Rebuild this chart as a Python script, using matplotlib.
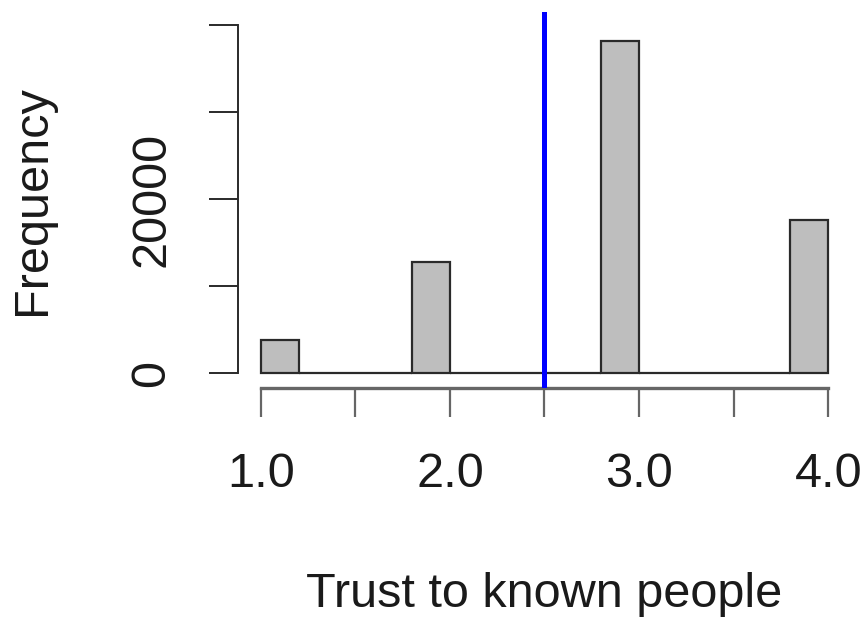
import matplotlib
matplotlib.use("Agg")
import matplotlib.pyplot as plt
import numpy as np

plt.rcParams['font.family'] = ['Liberation Sans', 'DejaVu Sans']

# Data
bin_edges = [1.0, 1.2, 1.4, 1.6, 1.8, 2.0, 2.2, 2.4, 2.6, 2.8, 3.0, 3.2, 3.4, 3.6, 3.8, 4.0]
counts = [3800, 0, 0, 0, 12750, 0, 0, 0, 0, 38200, 0, 0, 0, 0, 17600]
mean_line = 2.5
x_ticks = [1.0, 1.5, 2.0, 2.5, 3.0, 3.5, 4.0]
x_tick_labels = ["1.0", "", "2.0", "", "3.0", "", "4.0"]
y_ticks = [0, 10000, 20000, 30000, 40000]
y_tick_labels = ["0", "", "20000", "", ""]
x_label = "Trust to known people"
y_label = "Frequency"

W, H = 862, 617
fig = plt.figure(figsize=(W / 100, H / 100), dpi=100)
left, right, top, bottom = 238, 851, 12, 388
ax = fig.add_axes([left / W, 1 - bottom / H, (right - left) / W, (bottom - top) / H])

edges = np.array(bin_edges)
widths = np.diff(edges)
ax.bar(edges[:-1], counts, width=widths, align='edge', color='#bebebe',
       edgecolor='#2a2a2a', linewidth=1.6, zorder=2)
ax.axvline(mean_line, color='#0000ff', linewidth=3.6, zorder=3)

ax.set_xlim(0.88, 4.12)
ax.set_ylim(-1724, 41494)

for s in ['top', 'right']:
    ax.spines[s].set_visible(False)
ax.spines['left'].set_bounds(0, 40000)
ax.spines['bottom'].set_bounds(1.0, 4.0)
ax.spines['left'].set_color('#2a2a2a')
ax.spines['left'].set_linewidth(1.4)
ax.spines['bottom'].set_color('#666666')
ax.spines['bottom'].set_linewidth(2.4)

ax.set_xticks(x_ticks)
ax.set_xticklabels(x_tick_labels)
ax.set_yticks(y_ticks)
ax.set_yticklabels(y_tick_labels, rotation=90, va='center', ha='center')

ax.tick_params(axis='x', length=21, width=1.6, color='#666666', pad=25,
               labelsize=35, labelcolor='#1a1a1a')
ax.tick_params(axis='y', length=21, width=1.4, color='#2a2a2a', pad=41,
               labelsize=35, labelcolor='#1a1a1a')

ax.set_xlabel(x_label, fontsize=35, color='#1a1a1a')
ax.xaxis.set_label_coords(0.5, -219 / (bottom - top))
ax.xaxis.label.set_va('baseline')
ax.set_ylabel(y_label, fontsize=35, color='#1a1a1a')
ax.yaxis.set_label_coords(-206 / (right - left), 0.5)
ax.yaxis.label.set_va('center')

fig.savefig('out.png', dpi=100)
